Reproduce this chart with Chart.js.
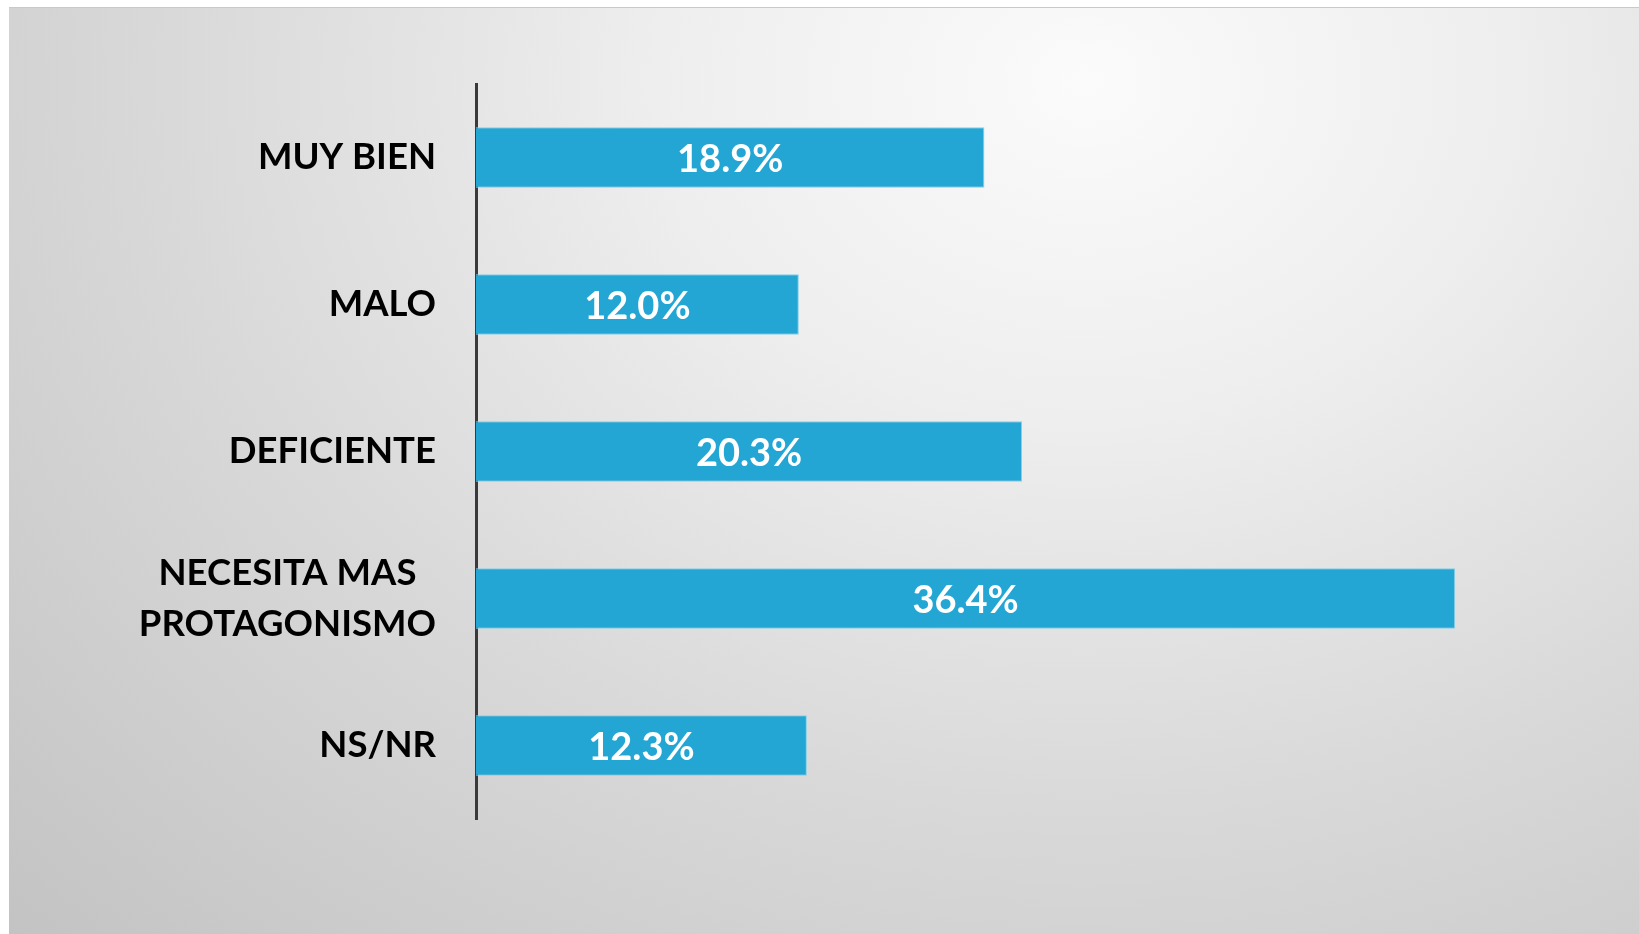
<!DOCTYPE html>
<html>
<head>
<meta charset="utf-8">
<script src="https://cdn.jsdelivr.net/npm/chart.js@4.4.0/dist/chart.umd.min.js"></script>
<style>
    html, body { margin: 0; padding: 0; background: #ffffff; }
    #wrap { position: relative; width: 1639px; height: 934px; overflow: hidden; }
    #panel {
        position: absolute; left: 9px; top: 7px; right: 0; bottom: 0;
        border-top: 1px solid #c9c9c9;
        background: radial-gradient(ellipse farthest-corner at 66% 8%, #fbfbfb 0%, #eeeeee 28%, #d9d9d9 60%, #c3c3c3 100%);
    }
    #chart { position: absolute; left: 0; top: 0; }
</style>
</head>
<body>
<div id="wrap">
    <div id="panel"></div>
    <canvas id="chart" width="1639" height="934"></canvas>
</div>
<script>
const categories = [['MUY BIEN'], ['MALO'], ['DEFICIENTE'], ['NECESITA MAS', 'PROTAGONISMO'], ['NS/NR']];
const values = [18.9, 12.0, 20.3, 36.4, 12.3];
const valueLabels = ['18.9%', '12.0%', '20.3%', '36.4%', '12.3%'];

const catFont = 'bold 36.5px Lato';
const valFont = 'bold 38px Lato';

// category labels: block right-aligned, lines centred inside the block
const categoryLabels = {
    id: 'categoryLabels',
    afterDraw(chart) {
        const ctx = chart.ctx;
        const yScale = chart.scales.y;
        const lineH = 51;
        ctx.save();
        ctx.font = catFont;
        ctx.fillStyle = '#000000';
        ctx.textAlign = 'center';
        ctx.textBaseline = 'middle';
        categories.forEach((lines, i) => {
            const y = yScale.getPixelForTick(i);
            const w = Math.max(...lines.map(l => ctx.measureText(l).width));
            const cx = chart.chartArea.left - 40 - w / 2;
            const y0 = y - (lines.length - 1) * lineH / 2;
            lines.forEach((l, j) => ctx.fillText(l, cx, y0 + j * lineH));
        });
        ctx.restore();
    }
};

// value labels in the middle of each bar
const barValues = {
    id: 'barValues',
    afterDatasetsDraw(chart) {
        const ctx = chart.ctx;
        const meta = chart.getDatasetMeta(0);
        ctx.save();
        ctx.font = valFont;
        ctx.fillStyle = '#ffffff';
        ctx.textAlign = 'center';
        ctx.textBaseline = 'middle';
        meta.data.forEach((bar, i) => {
            ctx.fillText(valueLabels[i], (bar.x + bar.base) / 2, bar.y + 2);
        });
        ctx.restore();
    }
};

const ctx = document.getElementById('chart').getContext('2d');
new Chart(ctx, {
    type: 'bar',
    data: {
        labels: categories,
        datasets: [{
            data: values,
            backgroundColor: '#23a6d4',
            borderColor: '#86cfe8',
            borderWidth: 1,
            categoryPercentage: 1,
            barPercentage: 0.41
        }]
    },
    options: {
        indexAxis: 'y',
        responsive: false,
        animation: false,
        layout: { padding: { left: 476, right: 87, top: 84, bottom: 115 } },
        plugins: { legend: { display: false }, tooltip: { enabled: false } },
        scales: {
            x: { display: false, min: 0, max: 40 },
            y: {
                display: true,
                grid: { display: false, drawTicks: false },
                ticks: { display: false },
                border: { display: true, color: '#3a3a3a', width: 3 }
            }
        }
    },
    plugins: [categoryLabels, barValues]
});
</script>
</body>
</html>
